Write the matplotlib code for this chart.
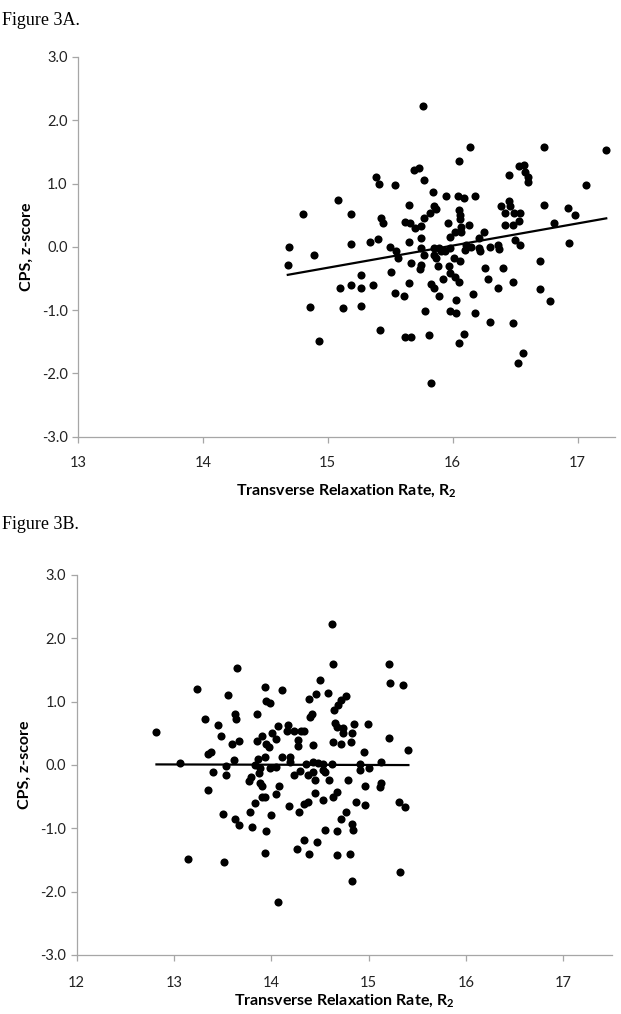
import numpy as np
import matplotlib
matplotlib.use('Agg')
import matplotlib.pyplot as plt

# Figure 3A: R2 vs CPS z-score
r2_a = [15.39, 15.41, 15.08, 14.80, 15.19, 15.43, 15.44, 14.69, 14.89, 15.19, 15.34, 15.40,
        14.68, 15.27, 15.10, 15.19, 15.27, 15.36, 14.86, 15.12, 15.27, 15.42, 14.93,
        15.76, 16.14, 16.73, 17.23, 16.05, 15.69, 15.73, 16.53, 16.57, 16.45, 16.58, 16.60,
        16.60, 15.77, 15.54, 17.07, 15.84, 15.95, 16.04, 16.09, 16.18, 15.65, 15.85, 15.87,
        16.05, 16.06, 15.82, 15.77, 16.39, 16.45, 16.46, 16.42, 16.49, 16.54, 16.53, 16.42,
        16.48, 16.73, 16.92, 16.98, 16.81, 16.93, 15.62, 15.66, 15.70, 15.75, 15.96, 16.06,
        16.07, 16.13, 16.07, 16.02, 15.98, 16.25, 15.65, 15.75, 16.21, 16.50, 16.54, 15.50,
        15.55, 15.56, 15.51, 15.75, 15.77, 15.85, 15.89, 15.85, 15.87, 15.94, 15.98, 15.91,
        16.01, 16.06, 16.10, 16.11, 16.15, 16.21, 16.22, 16.30, 16.36, 16.37, 15.67, 15.75,
        15.74, 15.88, 15.97, 15.98, 16.02, 16.05, 15.92, 15.65, 15.83, 15.85, 15.89, 15.54,
        15.61, 16.26, 16.28, 16.40, 16.48, 16.36, 16.16, 16.03, 16.70, 16.70, 16.78, 15.78,
        15.98, 16.03, 16.18, 16.30, 16.48, 15.62, 15.67, 15.81, 16.09, 16.05, 16.56, 16.52,
        15.83]
cps_a = [1.11, 1.00, 0.74, 0.52, 0.52, 0.45, 0.38, 0.00, -0.13, 0.04, 0.07, 0.13,
         -0.28, -0.44, -0.65, -0.60, -0.65, -0.60, -0.95, -0.97, -0.93, -1.32, -1.49,
         2.23, 1.58, 1.58, 1.53, 1.35, 1.21, 1.24, 1.27, 1.30, 1.13, 1.19, 1.10,
         1.02, 1.05, 0.98, 0.97, 0.87, 0.81, 0.81, 0.77, 0.81, 0.66, 0.65, 0.60,
         0.58, 0.51, 0.53, 0.45, 0.65, 0.73, 0.64, 0.53, 0.53, 0.53, 0.41, 0.35,
         0.35, 0.66, 0.62, 0.51, 0.37, 0.06, 0.40, 0.37, 0.30, 0.33, 0.37, 0.44,
         0.32, 0.35, 0.24, 0.24, 0.16, 0.24, 0.08, 0.14, 0.14, 0.11, 0.03, 0.00,
         -0.06, -0.18, -0.39, -0.02, -0.13, -0.02, -0.02, -0.13, -0.18, -0.07, -0.02, -0.07,
         -0.17, -0.23, -0.05, 0.03, 0.00, -0.02, -0.07, -0.01, 0.03, -0.03, -0.26, -0.28,
         -0.35, -0.31, -0.31, -0.42, -0.48, -0.56, -0.51, -0.57, -0.59, -0.65, -0.78, -0.73,
         -0.78, -0.34, -0.51, -0.34, -0.55, -0.65, -0.74, -0.84, -0.22, -0.67, -0.85, -1.01,
         -1.02, -1.05, -1.04, -1.18, -1.21, -1.43, -1.42, -1.39, -1.38, -1.52, -1.68, -1.84,
         -2.15]
fit_a = [0.350, -5.58]   # slope, intercept

# Figure 3B
r2_b = [13.65, 13.24, 13.56, 13.94, 14.11, 13.95, 13.99, 13.32, 13.45, 13.63, 13.64, 13.85,
        12.82, 13.48, 14.07, 14.01, 13.90, 13.85, 13.60, 13.67, 13.95, 13.98, 14.05, 13.35,
        13.38, 13.06, 13.53, 13.62, 13.86, 13.94, 14.11, 13.83, 13.88, 13.99, 14.05, 13.87,
        13.40, 13.53, 13.79, 13.77, 13.88, 13.91, 14.08, 13.35, 14.05, 13.90, 13.94, 13.83,
        13.50, 13.78, 14.00, 13.63, 13.67, 13.80, 13.95, 13.14, 13.51, 13.94, 14.07,
        14.62, 14.63, 15.21, 15.22, 15.35, 14.50, 14.39, 14.46, 14.58, 14.77, 14.72, 14.69,
        14.65, 14.40, 14.42, 14.17, 14.16, 14.23, 14.31, 14.34, 14.28, 14.28, 14.43, 14.63,
        14.66, 14.68, 14.74, 14.74, 14.85, 14.83, 14.82, 14.72, 14.99, 15.21, 15.41, 14.95,
        14.19, 14.19, 14.36, 14.43, 14.48, 14.53, 14.62, 14.91, 15.13, 14.91, 15.01, 14.30,
        14.23, 14.38, 14.43, 14.53, 14.55, 14.45, 14.59, 14.79, 14.96, 15.13, 15.12, 14.45,
        14.53, 14.64, 14.68, 14.18, 14.29, 14.34, 14.38, 14.87, 14.96, 15.31, 15.38, 14.77,
        14.72, 14.83, 14.84, 14.55, 14.68, 14.34, 14.27, 14.47, 14.39, 14.68, 14.81, 14.83,
        15.32]
cps_b = [1.53, 1.20, 1.11, 1.23, 1.19, 1.01, 0.98, 0.73, 0.63, 0.80, 0.73, 0.80,
         0.52, 0.45, 0.62, 0.50, 0.46, 0.38, 0.33, 0.38, 0.33, 0.28, 0.41, 0.18,
         0.21, 0.03, -0.01, 0.08, 0.09, 0.13, 0.13, 0.00, -0.05, -0.05, -0.03, -0.13,
         -0.11, -0.16, -0.19, -0.26, -0.29, -0.34, -0.33, -0.39, -0.46, -0.51, -0.51, -0.60,
         -0.78, -0.75, -0.79, -0.85, -0.95, -0.98, -1.04, -1.49, -1.53, -1.39, -2.16,
         2.22, 1.59, 1.59, 1.30, 1.26, 1.34, 1.04, 1.12, 1.13, 1.09, 1.03, 0.95,
         0.87, 0.76, 0.80, 0.63, 0.53, 0.53, 0.53, 0.54, 0.39, 0.30, 0.32, 0.37,
         0.67, 0.60, 0.58, 0.50, 0.64, 0.50, 0.37, 0.33, 0.65, 0.42, 0.24, 0.20,
         0.13, 0.04, 0.02, 0.05, 0.03, 0.02, 0.02, 0.02, 0.05, -0.08, -0.05, -0.09,
         -0.16, -0.16, -0.11, -0.08, -0.11, -0.24, -0.23, -0.24, -0.34, -0.28, -0.35, -0.44,
         -0.55, -0.51, -0.42, -0.65, -0.74, -0.61, -0.58, -0.58, -0.63, -0.59, -0.67, -0.75,
         -0.85, -0.93, -1.02, -1.03, -1.04, -1.18, -1.33, -1.21, -1.40, -1.42, -1.41, -1.83,
         -1.69]
fit_b = [-0.004, 0.06]

y_ticks = [-3, -2, -1, 0, 1, 2, 3]

plt.rcParams['font.family'] = ['Lato', 'DejaVu Sans']
plt.rcParams['mathtext.fontset'] = 'custom'
plt.rcParams['mathtext.rm'] = 'Lato'
plt.rcParams['mathtext.bf'] = 'Lato:bold'

fig = plt.figure(figsize=(6.21, 10.14), dpi=100)
gray = '#a6a6a6'


def panel(ax, x, y, fit, xlim, xticks, tpad, lpad):
    x = np.array(x)
    ax.scatter(x, y, s=34, color='black', zorder=3, linewidths=0)
    xs = np.array([x.min(), x.max()])
    ax.plot(xs, fit[0] * xs + fit[1], color='black', lw=1.6, zorder=4)
    ax.set_xlim(*xlim)
    ax.set_ylim(-3, 3)
    ax.set_xticks(xticks)
    ax.set_yticks(y_ticks)
    ax.set_yticklabels(['%.1f' % v for v in y_ticks])
    for s in ['top', 'right']:
        ax.spines[s].set_visible(False)
    for s in ['left', 'bottom']:
        ax.spines[s].set_color(gray)
        ax.spines[s].set_linewidth(0.9)
    ax.tick_params(colors=gray, labelcolor='#222222', labelsize=10.5, length=4, width=0.9)
    ax.tick_params(axis='x', pad=tpad)
    ax.set_ylabel('CPS, z-score', fontsize=11.5, fontweight='bold', labelpad=6)
    ax.set_xlabel(r'Transverse Relaxation Rate, R$_\mathbf{2}$', fontsize=11.5,
                  fontweight='bold', labelpad=lpad)


ax1 = fig.add_axes([0.1256, 0.5693, 0.8647, 0.3745])
panel(ax1, r2_a, cps_a, fit_a, (13, 17.3), [13, 14, 15, 16, 17], 10, 9)

ax2 = fig.add_axes([0.1235, 0.0582, 0.8615, 0.3748])
panel(ax2, r2_b, cps_b, fit_b, (12, 17.5), [12, 13, 14, 15, 16, 17], 11, 2)

fig.text(0.003, 0.988, 'Figure 3A.', fontsize=13, family='Liberation Serif', va='top')
fig.text(0.003, 0.491, 'Figure 3B.', fontsize=13, family='Liberation Serif', va='top')

fig.savefig('out.png', dpi=100)
